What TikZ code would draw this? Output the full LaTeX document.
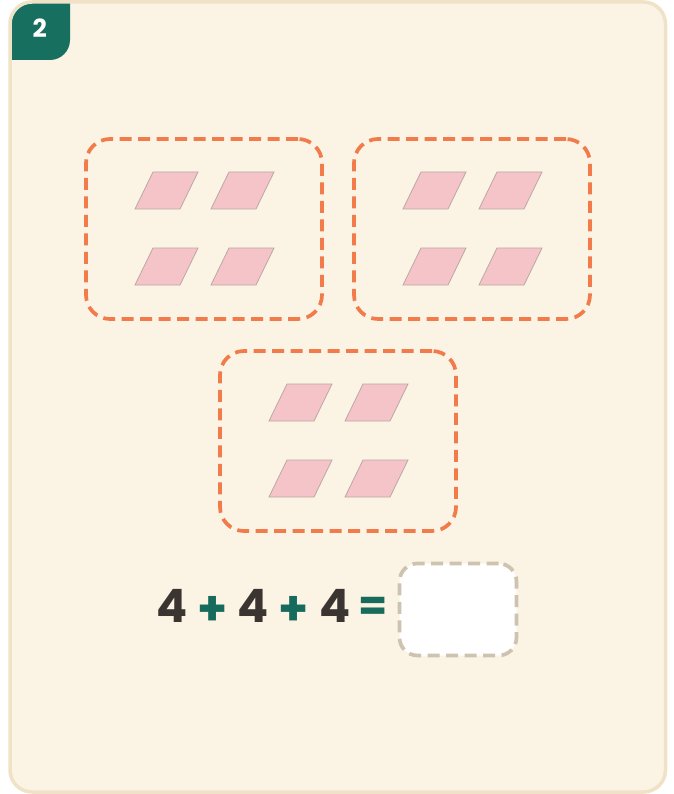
\documentclass[tikz,border=0pt]{standalone}
\usepackage{fontspec}
\setmainfont{Poppins}[BoldFont={* Bold}]
\definecolor{cardbg}{HTML}{FBF3E3}
\definecolor{cardedge}{HTML}{EFE2C6}
\definecolor{badgeteal}{HTML}{17705F}
\definecolor{opteal}{HTML}{176B5C}
\definecolor{groupor}{HTML}{F27B4B}
\definecolor{tilepink}{HTML}{F5C4C9}
\definecolor{tileedge}{HTML}{BBA7A5}
\definecolor{digit}{HTML}{3A3531}
\definecolor{answeredge}{HTML}{CEC3B1}
\tikzset{
  groupbox/.style={draw=groupor, line width=3.7pt, dash pattern=on 12pt off 6.5pt,
    rounded corners=24pt, minimum width=236pt, minimum height=180pt, inner sep=0pt},
  answerbox/.style={draw=answeredge, fill=white, line width=3.7pt, dash pattern=on 12pt off 6.5pt,
    rounded corners=18pt, minimum width=117pt, minimum height=92pt, inner sep=0pt},
  digitnode/.style={font=\fontsize{46}{46}\selectfont\bfseries, text=digit, inner sep=0pt, anchor=base},
  plusnode/.style={font=\fontsize{48}{48}\selectfont\bfseries, text=opteal, inner sep=0pt},
  eqnode/.style={font=\fontsize{42}{42}\selectfont\bfseries, text=opteal, inner sep=0pt},
  tile/.pic={\draw[fill=tilepink, draw=tileedge, line width=0.8pt]
     (0,0) -- (45,0) -- (63,-37) -- (18,-37) -- cycle;},
}
\begin{document}
\begin{tikzpicture}[x=1pt, y=-1pt]
\useasboundingbox (0,0) rectangle (673,794);
% card
\fill[cardbg, rounded corners=22pt] (10,2) rectangle (665.5,792);
\begin{scope}
  \clip[rounded corners=22pt] (10,2) rectangle (665.5,792);
  \fill[badgeteal, rounded corners=20pt] (-20,-20) rectangle (70,60);
\end{scope}
\draw[cardedge, line width=3.5pt, rounded corners=22pt] (10,2) rectangle (665.5,792);
\node[font=\fontsize{25}{25}\selectfont\bfseries, text=white, inner sep=0pt, anchor=base] (badge) at (39.7,37.7) {2};

% groups
\node[groupbox] (g1) at (204,229) {};
\node[groupbox] (g2) at (472,229) {};
\node[groupbox] (g3) at (338,441) {};
\foreach \gx/\gy in {86/139, 354/139, 220/351}{
  \foreach \dx/\dy in {49/70, 125/70, 49/146, 125/146}{
    \pic at (\gx+\dx, \gy+\dy) {tile};
  }
}

% equation
\node[digitnode] (d1) at (172.5,622) {4};
\node[plusnode] (p1) at (213,611) {+};
\node[digitnode] (d2) at (253,622) {4};
\node[plusnode] (p2) at (294,611) {+};
\node[digitnode] (d3) at (335,622) {4};
\node[eqnode] (eq) at (373.5,609) {=};
\node[answerbox] (ans) at (458,609.5) {};
\end{tikzpicture}
\end{document}
